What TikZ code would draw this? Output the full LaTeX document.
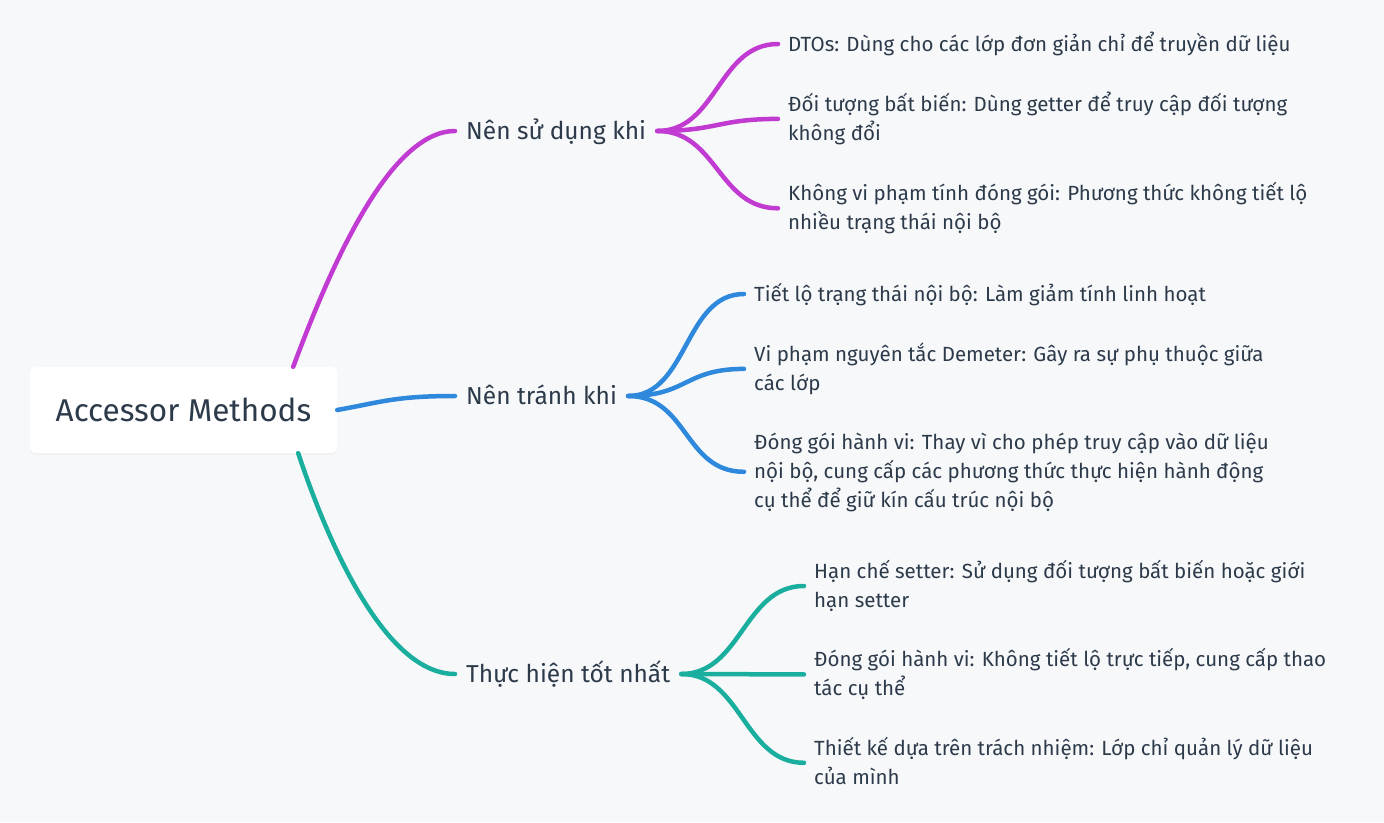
\documentclass[tikz,border=0pt]{standalone}
\usepackage{fontspec}
\setmainfont{Fira Sans}
\usetikzlibrary{positioning,shadows}

\definecolor{bgcol}{HTML}{F7F8FA}
\definecolor{txtcol}{HTML}{2C3A4A}
\definecolor{usecol}{HTML}{C13AD2}
\definecolor{avoidcol}{HTML}{2E88DC}
\definecolor{bestcol}{HTML}{1AAE9E}
\newcommand{\sline}{\rule[-7pt]{0pt}{28pt}}

\begin{document}
\begin{tikzpicture}[x=1pt,y=-1pt,node distance=32pt]
	\tikzstyle{root}
	  =[fill=white, rounded corners=6pt, minimum width=307pt,
	  minimum height=86pt, text=txtcol,
	  drop shadow={opacity=0.05, shadow xshift=0pt, shadow yshift=-2pt},
	  font=\fontsize{31.5}{36}\selectfont]
	\tikzstyle{branch}
	  =[anchor=west, inner xsep=11pt, inner ysep=0pt, text height=20pt,
	  text depth=3pt, text=txtcol, font=\fontsize{24.5}{29}\selectfont]
	\tikzstyle{leaf}
	  =[inner xsep=10pt, inner ysep=0pt, align=left, text=txtcol,
	  font=\fontsize{20.5}{29}\selectfont]
	\tikzstyle{link}=[line width=4.5pt, line cap=round]

	\fill[bgcol] (0,0) rectangle (1384,822);
	\useasboundingbox (0,0) rectangle (1384,822);

	\node[root] (root) at (183.5,410) {Accessor Methods};

	\node[branch] (use) at (455,131) {Nên sử dụng khi};
	\node[branch] (avoid) at (455,396) {Nên tránh khi};
	\node[branch] (best) at (455,674) {Thực hiện tốt nhất};

	% Nen su dung khi
	\node[leaf, anchor=west] (use1)
	  at (778,44) {\sline DTOs: Dùng cho các lớp đơn giản chỉ để truyền dữ liệu};
	\node[leaf] (use2)
	  [below right=32pt and 0pt of use1.south west]
	  {\sline Đối tượng bất biến: Dùng getter để truy cập đối tượng\\
	   \sline không đổi};
	\node[leaf] (use3)
	  [below right=32pt and 0pt of use2.south west]
	  {\sline Không vi phạm tính đóng gói: Phương thức không tiết lộ\\
	   \sline nhiều trạng thái nội bộ};

	% Nen tranh khi
	\node[leaf, anchor=west] (avoid1)
	  at (744,294) {\sline Tiết lộ trạng thái nội bộ: Làm giảm tính linh hoạt};
	\node[leaf] (avoid2)
	  [below right=32pt and 0pt of avoid1.south west]
	  {\sline Vi phạm nguyên tắc Demeter: Gây ra sự phụ thuộc giữa\\
	   \sline các lớp};
	\node[leaf] (avoid3)
	  [below right=31pt and 0pt of avoid2.south west]
	  {\sline Đóng gói hành vi: Thay vì cho phép truy cập vào dữ liệu\\
	   \sline nội bộ, cung cấp các phương thức thực hiện hành động\\
	   \sline cụ thể để giữ kín cấu trúc nội bộ};

	% Thuc hien tot nhat
	\node[leaf, anchor=west] (best1)
	  at (804,586) {\sline Hạn chế setter: Sử dụng đối tượng bất biến hoặc giới\\
	   \sline hạn setter};
	\node[leaf] (best2)
	  [below right=31pt and 0pt of best1.south west]
	  {\sline Đóng gói hành vi: Không tiết lộ trực tiếp, cung cấp thao\\
	   \sline tác cụ thể};
	\node[leaf] (best3)
	  [below right=31pt and 0pt of best2.south west]
	  {\sline Thiết kế dựa trên trách nhiệm: Lớp chỉ quản lý dữ liệu\\
	   \sline của mình};

	\draw[link, usecol] ([xshift=-44pt]root.north east)
	  .. controls +(30,-80) and +(-70,0) .. (use.west);
	\draw[link, avoidcol] (root.east)
	  .. controls +(45,-8) and +(-60,0) .. (avoid.west);
	\draw[link, bestcol] ([xshift=-39pt]root.south east)
	  .. controls +(30,90) and +(-70,0) .. (best.west);

	\foreach \i in {1,2,3}{
	  \draw[link, usecol] (use.east)
	    .. controls +(60,0) and +(-60,0) .. (use\i.west);
	  \draw[link, avoidcol] (avoid.east)
	    .. controls +(60,0) and +(-60,0) .. (avoid\i.west);
	  \draw[link, bestcol] (best.east)
	    .. controls +(60,0) and +(-60,0) .. (best\i.west);
	}
\end{tikzpicture}
\end{document}
